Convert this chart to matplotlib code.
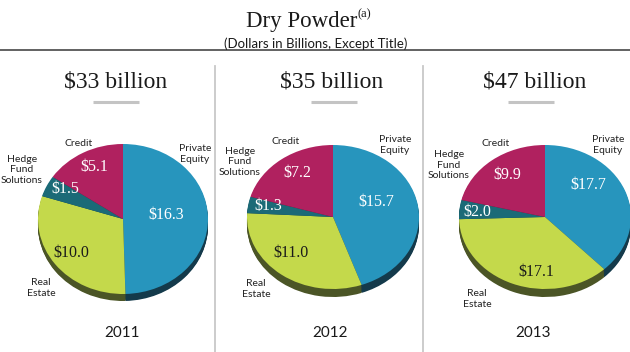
import numpy as np
import matplotlib.pyplot as plt

# data
years = ['2011', '2012', '2013']
totals = ['$33 billion', '$35 billion', '$47 billion']
categories = ['Private\nEquity', 'Real\nEstate', 'Hedge\nFund\nSolutions', 'Credit']
private_equity = [16.3, 15.7, 17.7]
real_estate = [10.0, 11.0, 17.1]
hedge_fund = [1.5, 1.3, 2.0]
credit = [5.1, 7.2, 9.9]

W, H = 630, 352
top_colors = ['#2795bd', '#c4d94b', '#1b6a77', '#b0215f']
side_colors = ['#143a4b', '#4b5526', '#0e3a42', '#5e1233']
value_colors = ['white', '#1a1a1a', 'white', 'white']

SERIF = 'Liberation Serif'
SANS = 'Lato'

# pie geometry per panel: cx, cy, rx, ry, depth (pixels)
pies = [(123, 219, 85, 75, 7), (333, 217, 86, 72, 8), (545, 217, 86, 72, 8)]
headers_x = [116, 332, 535]
years_x = [122, 330, 533]
rule_x = [(93, 139), (311, 357), (508, 554)]
# text positions for category labels and values (PE, RE, HFS, Credit)
label_pos = [
    [(195, 154), (41, 288), (22, 170), (79, 144)],
    [(395, 145), (256, 289), (240, 162), (286, 141)],
    [(608, 145), (477, 299), (449, 165), (496, 144)],
]
value_pos = [
    [(166, 215), (71, 253), (65, 189), (94, 167)],
    [(376, 202), (291, 253), (268, 206), (297, 173)],
    [(588, 185), (536, 272), (477, 212), (507, 175)],
]

fig = plt.figure(figsize=(W / 100, H / 100), dpi=100)
bg = fig.add_axes([0, 0, 1, 1])
bg.set_xlim(0, W)
bg.set_ylim(H, 0)
bg.axis('off')

# title block
bg.text(357, 21, 'Dry Powder', family=SERIF, fontsize=16.5, ha='right', va='center', color='#1a1a1a')
bg.text(358, 14, '(a)', family=SERIF, fontsize=9, ha='left', va='center', color='#1a1a1a')
bg.text(316, 44, '(Dollars in Billions, Except Title)', family=SANS, fontsize=9.5, ha='center', va='center',
        color='#1a1a1a')
bg.plot([0, W], [50, 50], color='#555555', lw=1.3)

for x in (215, 423):
    bg.plot([x, x], [66, H], color='#c8c8c8', lw=1.3)

all_vals = []
for i in range(3):
    vals = [private_equity[i], real_estate[i], hedge_fund[i], credit[i]]
    all_vals.append(vals)
    cx, cy, rx, ry, depth = pies[i]

    bg.text(headers_x[i], 82, totals[i], family=SERIF, fontsize=17, ha='center', va='center', color='#1a1a1a')
    bg.plot(rule_x[i], [102, 102], color='#c4c4c4', lw=2.2, solid_capstyle='butt')
    bg.text(years_x[i], 333, years[i], family=SANS, fontsize=11, ha='center', va='center', color='#1a1a1a')

    ax = fig.add_axes([(cx - rx) / W, 1 - (cy + ry + depth) / H, 2 * rx / W, (2 * ry + depth) / H])
    d = depth / ry
    for off in np.linspace(d, 0.02, 8):
        ax.pie(vals, colors=side_colors, startangle=90, counterclock=False, center=(0, -off),
               radius=1, wedgeprops=dict(linewidth=0))
    ax.pie(vals, colors=top_colors, startangle=90, counterclock=False, center=(0, 0),
           radius=1, wedgeprops=dict(linewidth=0))
    ax.set_aspect('auto')
    ax.set_xlim(-1, 1)
    ax.set_ylim(-1 - d, 1)
    ax.axis('off')

# overlay for labels, on top of the pies
top = fig.add_axes([0, 0, 1, 1])
top.set_xlim(0, W)
top.set_ylim(H, 0)
top.axis('off')
for i in range(3):
    for j in range(4):
        lx, ly = label_pos[i][j]
        top.text(lx, ly, categories[j], family=SANS, fontsize=7.5, ha='center', va='center',
                 linespacing=1.25, color='#222222')
        vx, vy = value_pos[i][j]
        top.text(vx, vy, f'${all_vals[i][j]:.1f}', family=SERIF, fontsize=11.5, ha='center', va='center',
                 color=value_colors[j])

fig.savefig('out.png', dpi=100)
